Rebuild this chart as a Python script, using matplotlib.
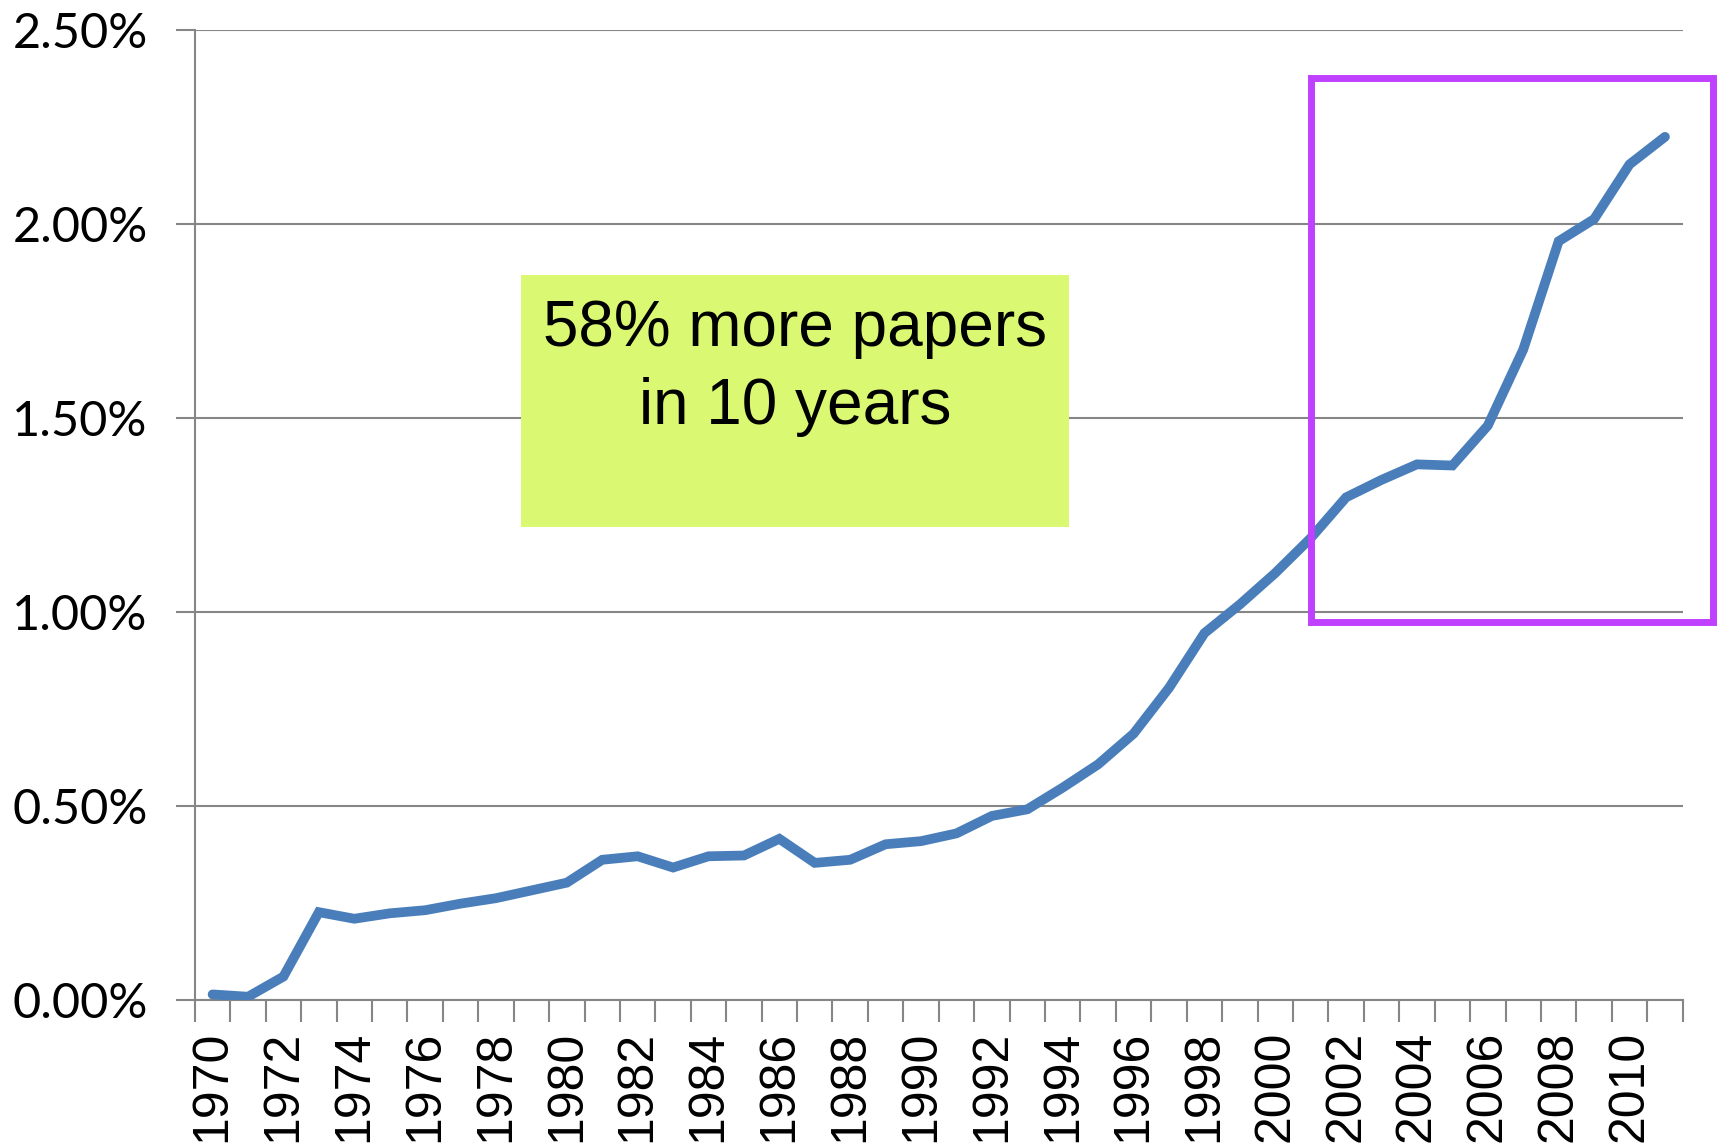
import matplotlib.pyplot as plt
from matplotlib.patches import Rectangle
from matplotlib.ticker import FuncFormatter, MultipleLocator, FixedLocator

# share of papers per year (percent)
years = list(range(1970, 2012))
share = [0.014, 0.008, 0.06, 0.226, 0.209, 0.223, 0.231, 0.248, 0.262, 0.282,
         0.302, 0.361, 0.370, 0.341, 0.370, 0.372, 0.415, 0.353, 0.361, 0.401,
         0.409, 0.429, 0.474, 0.491, 0.547, 0.607, 0.686, 0.804, 0.945, 1.019,
         1.100, 1.190, 1.295, 1.340, 1.380, 1.377, 1.480, 1.676, 1.955, 2.012,
         2.153, 2.224]
note = "58% more papers\nin 10 years"

fig = plt.figure(figsize=(17.17, 11.44), dpi=100)
ax = fig.add_axes([0.1135, 0.126, 0.8665, 0.848])

x = list(range(len(years)))
ax.plot(x, share, color='#4A7EBB', lw=7, solid_capstyle='round', solid_joinstyle='miter', zorder=3)

ax.set_xlim(-0.5, len(years) - 0.5)
ax.set_ylim(0, 2.5)

# y axis
ax.yaxis.set_major_locator(MultipleLocator(0.5))
ax.yaxis.set_major_formatter(FuncFormatter(lambda v, p: f"{v:.2f}%"))
ax.grid(axis='y', color='#868686', lw=1.5, zorder=0)
ax.tick_params(axis='y', length=14, width=1.5, color='#868686', labelsize=35, pad=20)
for lab in ax.get_yticklabels():
    lab.set_fontfamily('Lato')

# x axis: labels every other year, tick marks between categories
ax.xaxis.set_major_locator(FixedLocator(x[::2]))
ax.set_xticklabels([str(y) for y in years[::2]], rotation=90, fontsize=36,
                   fontfamily='Liberation Sans')
ax.xaxis.set_minor_locator(FixedLocator([i - 0.5 for i in range(len(years) + 1)]))
ax.tick_params(axis='x', which='major', length=0, pad=22)
ax.tick_params(axis='x', which='minor', length=16, width=1.5, color='#868686')

for s in ['top', 'right']:
    ax.spines[s].set_visible(False)
for s in ['left', 'bottom']:
    ax.spines[s].set_color('#868686')
    ax.spines[s].set_linewidth(1.5)

# annotation box
ax.add_patch(Rectangle((8.71, 1.219), 15.48, 0.649, facecolor='#DAF872',
                       edgecolor='none', zorder=2))
ax.text(16.45, 1.628, note, ha='center', va='center', fontsize=46,
        fontfamily='Liberation Sans', linespacing=1.38, zorder=4)

# highlight frame
ax.add_patch(Rectangle((31, 0.973), 11.35, 1.403, facecolor='none',
                       edgecolor='#BF40FF', lw=5, clip_on=False, zorder=5))

fig.savefig('out.png', dpi=100)
